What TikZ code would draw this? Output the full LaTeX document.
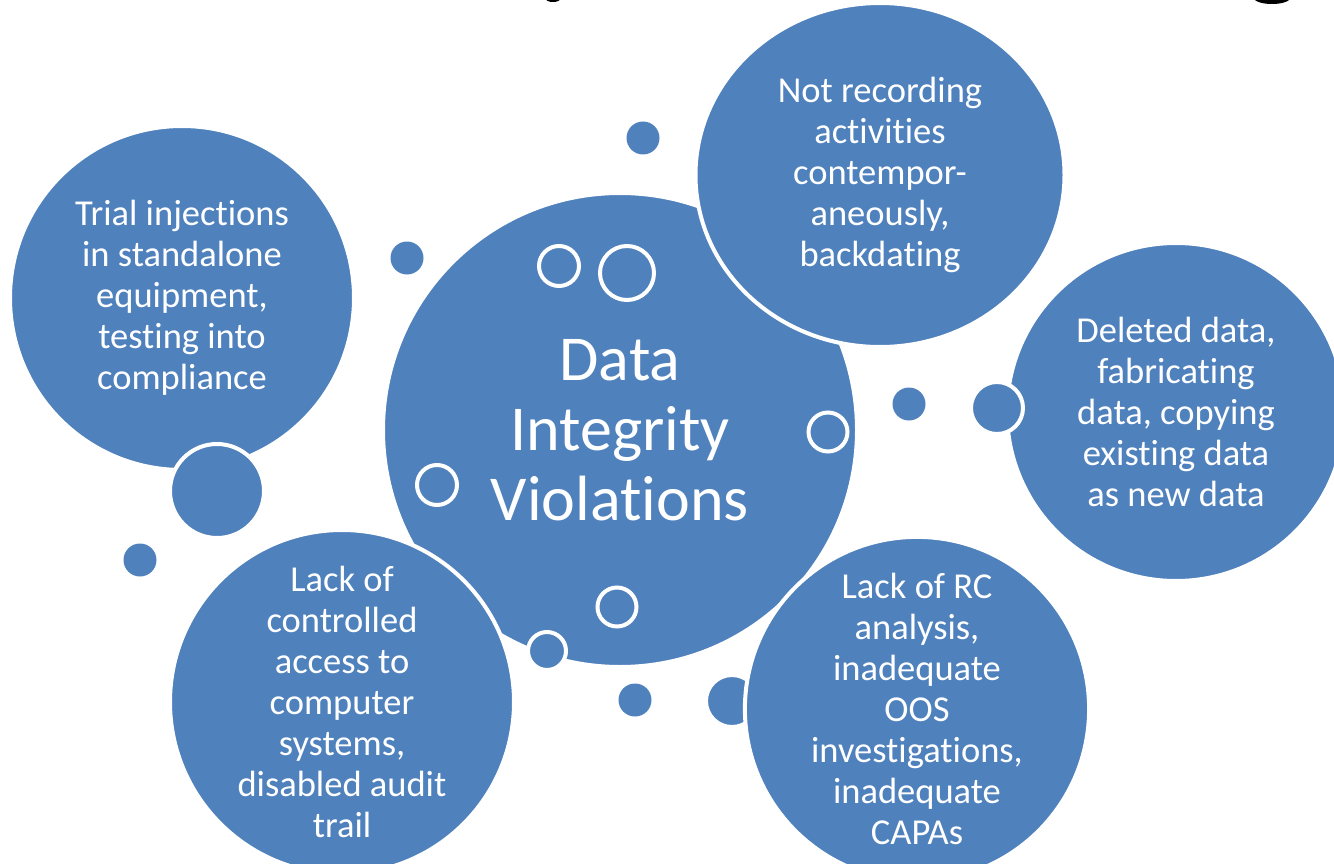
\documentclass[tikz,border=0pt]{standalone}
\usepackage{fontspec}
\setmainfont{Carlito}[Ligatures=NoCommon]
\usetikzlibrary{shapes.geometric}

\definecolor{bubbleblue}{RGB}{79,129,189}

\tikzset{
    blob/.style={circle, fill=bubbleblue, draw=white, line width=4pt, inner sep=0pt},
    bubble/.style={blob, text=white, align=center, font=\fontsize{36.5}{41}\selectfont},
    ring/.style={circle, draw=white, line width=4pt, inner sep=0pt},
    dot/.style={circle, fill=bubbleblue, inner sep=0pt, minimum size=33pt},
}

\begin{document}
\begin{tikzpicture}[x=1pt, y=-1pt]
    \useasboundingbox (0,0) rectangle (1334,864);

    % Cut-off title descenders at the top edge
    \fill[black] (1272,-2) ellipse (18 and 6);
    \fill[black] (553,-1) ellipse (7 and 3);

    % Small loose dots
    \node[dot] (dtop) at (643,138) {};
    \node[dot] (dleft) at (407,258) {};
    \node[dot] (dfar) at (140,560) {};
    \node[dot] (dright) at (909,404) {};
    \node[dot] (dbottom) at (635,700) {};

    % Central circle
    \node[bubble, minimum size=474pt, font=\fontsize{64}{70}\selectfont] (div) at (620,430)
        {Data\\Integrity\\Violations};

    % Rings inside the central circle
    \node[ring, minimum size=40pt] (r1) at (559,266) {};
    \node[ring, minimum size=54pt] (r2) at (627,273) {};
    \node[ring, minimum size=39pt] (r3) at (828,432) {};
    \node[ring, minimum size=40pt] (r4) at (437,485) {};
    \node[ring, minimum size=39pt] (r5) at (617,607) {};

    % Outer circles and the bubbles stuck to them
    \node[bubble, minimum size=344pt] (trial) at (182,298)
        {Trial injections\\in standalone\\equipment,\\testing into\\compliance};
    \node[blob, minimum size=94pt] (btrial) at (217,491) {};

    \node[bubble, minimum size=338pt] (deleted) at (1176,412)
        {Deleted data,\\fabricating\\data, copying\\existing data\\as new data};
    \node[blob, minimum size=52pt] (bdeleted) at (997,408) {};

    \node[blob, minimum size=52pt] (bcapa) at (732,701) {};
    \node[bubble, minimum size=344pt] (capa) at (917,709)
        {Lack of RC\\analysis,\\inadequate\\OOS\\investigations,\\inadequate\\CAPAs};

    \node[bubble, minimum size=344pt] (access) at (342,702)
        {Lack of\\controlled\\access to\\computer\\systems,\\disabled audit\\trail};

    \node[bubble, ellipse, minimum width=369pt, minimum height=344pt] (record) at (880,175)
        {Not recording\\activities\\contempor-\\aneously,\\backdating};

    \node[blob, minimum size=38pt] (bdiv) at (547,651) {};
\end{tikzpicture}
\end{document}
